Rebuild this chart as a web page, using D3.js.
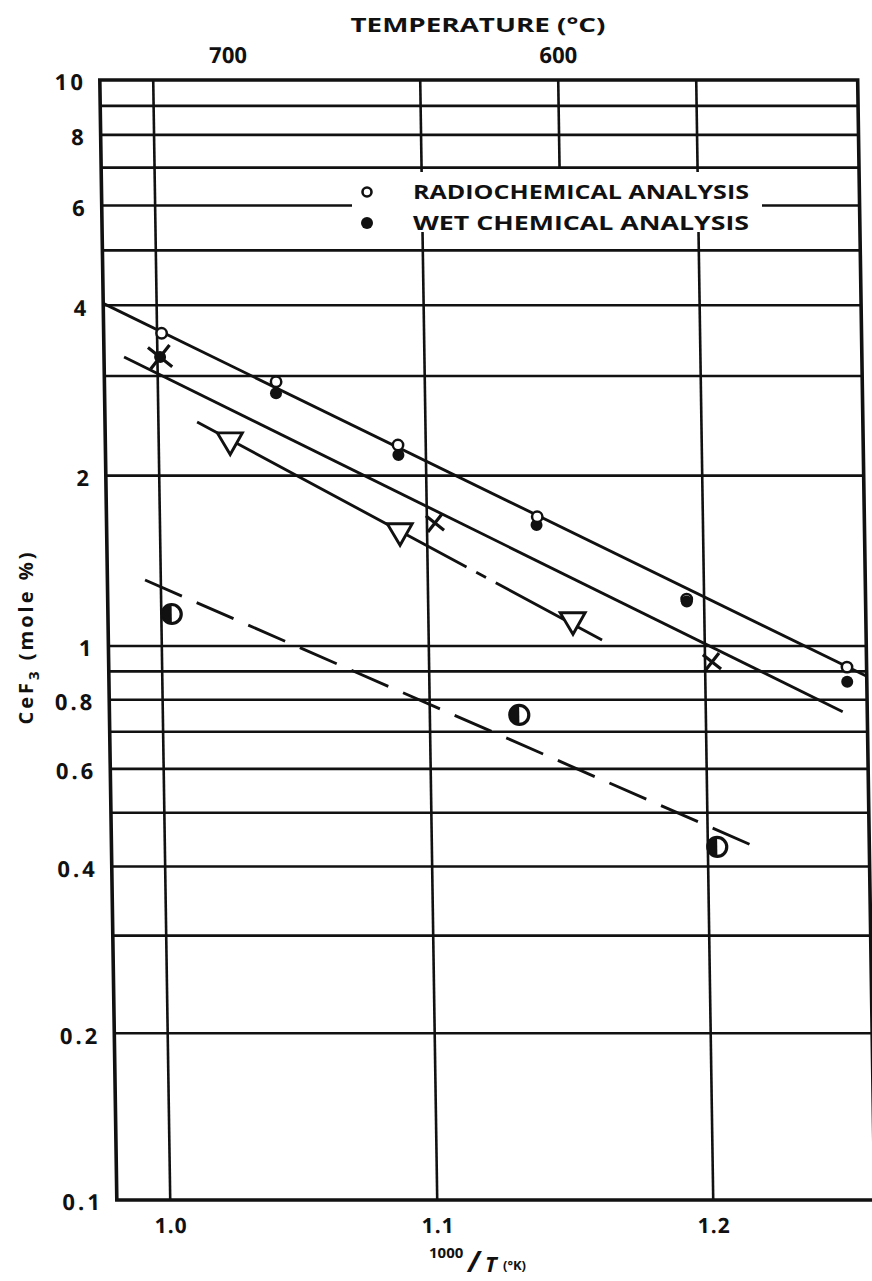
<!DOCTYPE html>
<html><head><meta charset="utf-8">
<script src="https://cdn.jsdelivr.net/npm/d3@7"></script>
<style>
body{margin:0;background:#fff}
svg{display:block}
</style>
</head><body>
<svg id="chart" width="872" height="1281"></svg>
<script>
// ---------- data ----------
const xBreaks = [1.0, 1.1, 1.2];            // 1000/T(°K) reference values
const xExtent = [0.980, 1.2585];            // plotted 1000/T range
const xTickValues = [1.0, 1.1, 1.2];
const xTickLabels = ["1.0", "1.1", "1.2"];
const xGridValues = [1.0, 1.1, 1.2];
const xPartialGrid = [1.15];                 // short grid line at top
const topTickValues = [1.028, 1.15];         // °C marks on 1000/T axis
const topTickLabels = ["700", "600"];

const yBreaks = [0.1, 1, 10];
const yGridValues = [9, 8, 7, 6, 5, 4, 3, 2, 1, 0.9, 0.8, 0.7, 0.6, 0.5, 0.4, 0.3, 0.2];
const yTickValues = [10, 8, 6, 4, 2, 1, 0.8, 0.6, 0.4, 0.2, 0.1];
const yTickLabels = ["10", "8", "6", "4", "2", "1", "0.8", "0.6", "0.4", "0.2", "0.1"];

// Radiochemical analysis (open circles)
const radioX = [1.0017, 1.0443, 1.0896, 1.1400, 1.1937, 1.2514];
const radioY = [3.57, 2.93, 2.265, 1.692, 1.21, 0.916];
// Wet chemical analysis (filled circles)
const wetX = [1.0010, 1.0442, 1.0897, 1.1397, 1.1937, 1.2514];
const wetY = [3.24, 2.796, 2.175, 1.636, 1.198, 0.862];
// crosses
const crossX = [1.0010, 1.1029, 1.2025];
const crossY = [3.24, 1.649, 0.936];
// open triangles
const triX = [1.0267, 1.0898, 1.1523];
const triY = [2.311, 1.597, 1.112];
// half-filled circles
const halfX = [1.0039, 1.1324, 1.2034];
const halfY = [1.139, 0.751, 0.434];

// fitted lines (end points)
const lineAX = [0.980, 1.2585], lineAY = [4.03, 0.882];
const lineBX = [0.9875, 1.2496], lineBY = [3.24, 0.761];
const lineCX = [1.0145, 1.1628], lineCY = [2.488, 1.025];
const lineDX = [0.9941, 1.2200], lineDY = [1.308, 0.428];

// ---------- drawing ----------
const FONT = '"Open Sans","DejaVu Sans",sans-serif';
const INK = "#111";
const svg = d3.select("#chart");

const x = d3.scaleLinear().domain(xBreaks).range([152, 419, 695]);
const y = d3.scaleLog().domain(yBreaks).range([1200, 646, 80]);

const g = svg.append("g").attr("transform", "skewX(0.87)");

const x0 = x(xExtent[0]), x1 = x(xExtent[1]);
const yTop = y(10), yBot = y(0.1);

// horizontal grid
g.append("g").selectAll("line").data(yGridValues).join("line")
  .attr("x1", x0).attr("x2", x1)
  .attr("y1", d => y(d)).attr("y2", d => y(d))
  .attr("stroke", INK).attr("stroke-width", 2.6);

// vertical grid
g.append("g").selectAll("line").data(xGridValues).join("line")
  .attr("x1", d => x(d)).attr("x2", d => x(d))
  .attr("y1", yTop).attr("y2", yBot)
  .attr("stroke", INK).attr("stroke-width", 2.6);
g.append("g").selectAll("line").data(xPartialGrid).join("line")
  .attr("x1", d => x(d)).attr("x2", d => x(d))
  .attr("y1", yTop).attr("y2", y(7))
  .attr("stroke", INK).attr("stroke-width", 2.6);

// frame
g.append("rect").attr("x", x0).attr("y", yTop)
  .attr("width", x1 - x0).attr("height", yBot - yTop)
  .attr("fill", "none").attr("stroke", INK).attr("stroke-width", 3.6);

// axes
const styleAxis = (sel, size) => {
  sel.select(".domain").remove();
  sel.attr("font-family", FONT).attr("font-size", size).attr("font-weight", 700);
  sel.selectAll("text").attr("fill", INK);
};
const yLab = new Map(yTickValues.map((v, i) => [v, yTickLabels[i]]));
g.append("g").attr("transform", `translate(${x0},0)`)
  .call(d3.axisLeft(y).tickValues(yTickValues).tickFormat(d => yLab.get(d)).tickSize(0).tickPadding(14))
  .call(s => styleAxis(s, 22))
  .call(s => s.selectAll("text").attr("dy", "0.45em").attr("letter-spacing", "3px"));

const xLab = new Map(xTickValues.map((v, i) => [v, xTickLabels[i]]));
g.append("g").attr("transform", `translate(0,${yBot})`)
  .call(d3.axisBottom(x).tickValues(xTickValues).tickFormat(d => xLab.get(d)).tickSize(0).tickPadding(18))
  .call(s => styleAxis(s, 21))
  .call(s => s.selectAll("text").attr("letter-spacing", "1px"));

const tLab = new Map(topTickValues.map((v, i) => [v, topTickLabels[i]]));
g.append("g").attr("transform", `translate(0,${yTop})`)
  .call(d3.axisTop(x).tickValues(topTickValues).tickFormat(d => tLab.get(d)).tickSize(0).tickPadding(17))
  .call(s => styleAxis(s, 22));

// legend mask + legend
svg.append("rect").attr("x", 352).attr("y", 172).attr("width", 410).attr("height", 60).attr("fill", "#fff");
const legend = svg.append("g");
legend.append("circle").attr("cx", 367).attr("cy", 192).attr("r", 4.5)
  .attr("fill", "#fff").attr("stroke", INK).attr("stroke-width", 2.6);
legend.append("circle").attr("cx", 367).attr("cy", 223).attr("r", 6).attr("fill", INK);
legend.append("text").attr("x", 413).attr("y", 199).text("RADIOCHEMICAL ANALYSIS")
  .attr("font-family", FONT).attr("font-weight", 700).attr("font-size", 19)
  .attr("textLength", 336).attr("lengthAdjust", "spacingAndGlyphs").attr("fill", INK);
legend.append("text").attr("x", 413).attr("y", 230).text("WET CHEMICAL ANALYSIS")
  .attr("font-family", FONT).attr("font-weight", 700).attr("font-size", 19)
  .attr("textLength", 336).attr("lengthAdjust", "spacingAndGlyphs").attr("fill", INK);

// fitted lines
const line = d3.line().x(d => x(d[0])).y(d => y(d[1]));
const zip = (a, b) => a.map((v, i) => [v, b[i]]);
const lines = [
  {pts: zip(lineAX, lineAY), dash: null},
  {pts: zip(lineBX, lineBY), dash: null},
  {pts: zip(lineCX, lineCY), dash: "304,11,11,11,600"},
  {pts: zip(lineDX, lineDY), dash: "40,16"}
];
g.append("g").selectAll("path").data(lines).join("path")
  .attr("d", d => line(d.pts)).attr("fill", "none")
  .attr("stroke", INK).attr("stroke-width", 2.9)
  .attr("stroke-dasharray", d => d.dash);

// markers
const mk = g.append("g");
mk.selectAll(".wet").data(zip(wetX, wetY)).join("circle").attr("class", "wet")
  .attr("cx", d => x(d[0])).attr("cy", d => y(d[1])).attr("r", 6).attr("fill", INK);
mk.selectAll(".radio").data(zip(radioX, radioY).filter((d, i) => i !== 4)).join("circle").attr("class", "radio")
  .attr("cx", d => x(d[0])).attr("cy", d => y(d[1])).attr("r", 5.2)
  .attr("fill", "#fff").attr("stroke", INK).attr("stroke-width", 2.5);
// coincident point at 1.19 drawn underneath the filled one
mk.selectAll(".radio2").data(zip(radioX, radioY).filter((d, i) => i === 4)).join("circle").attr("class", "radio2")
  .attr("cx", d => x(d[0])).attr("cy", d => y(d[1])).attr("r", 5.2)
  .attr("fill", "none").attr("stroke", INK).attr("stroke-width", 2.5).lower();

mk.selectAll(".cross").data(zip(crossX, crossY)).join("path").attr("class", "cross")
  .attr("transform", d => `translate(${x(d[0])},${y(d[1])})`)
  .attr("d", (d, i) => { const s = i === 0 ? 12 : 9; return `M${-s},${-s * 0.8}L${s},${s * 0.8}M${-s * 0.8},${s}L${s * 0.8},${-s}`; })
  .attr("stroke", INK).attr("stroke-width", 3.2).attr("fill", "none");

const tri = d3.symbol(d3.symbolTriangle, 270);
mk.selectAll(".tri").data(zip(triX, triY)).join("path").attr("class", "tri")
  .attr("transform", d => `translate(${x(d[0])},${y(d[1])}) rotate(180)`)
  .attr("d", tri).attr("fill", "#fff").attr("stroke", INK).attr("stroke-width", 2.9)
  .attr("stroke-linejoin", "miter");

const half = mk.selectAll(".half").data(zip(halfX, halfY)).join("g").attr("class", "half")
  .attr("transform", d => `translate(${x(d[0])},${y(d[1])})`);
half.append("circle").attr("r", 9.5).attr("fill", "#fff").attr("stroke", INK).attr("stroke-width", 3.2);
half.append("path").attr("d", "M0,-9.5A9.5,9.5 0 0 0 0,9.5Z").attr("fill", INK);

// titles
svg.append("text").attr("x", 478).attr("y", 32).attr("text-anchor", "middle")
  .attr("font-family", FONT).attr("font-weight", 700).attr("font-size", 20)
  .attr("textLength", 255).attr("lengthAdjust", "spacingAndGlyphs").attr("fill", INK)
  .text("TEMPERATURE (°C)");

const yt = svg.append("text").attr("transform", "translate(33,637) rotate(-90)")
  .attr("text-anchor", "middle").attr("font-family", FONT).attr("font-weight", 700)
  .attr("font-size", 20).attr("letter-spacing", "3px").attr("fill", INK);
yt.append("tspan").text("CeF");
yt.append("tspan").text("3").attr("font-size", 15).attr("dy", 6);
yt.append("tspan").text(" (mole %)").attr("dy", -6);

const xt = svg.append("g").attr("font-family", FONT).attr("fill", INK);
xt.append("text").attr("x", 429).attr("y", 1258).attr("font-size", 15).attr("font-weight", 700).text("1000");
xt.append("text").attr("x", 468).attr("y", 1272).attr("font-size", 28).attr("font-style", "italic").attr("font-weight", 700).text("/");
xt.append("text").attr("x", 485).attr("y", 1272).attr("font-size", 22).attr("font-style", "italic").attr("font-weight", 700).text("T");
xt.append("text").attr("x", 503).attr("y", 1270).attr("font-size", 13).attr("font-weight", 700).text("(°K)");
</script>
</body></html>
